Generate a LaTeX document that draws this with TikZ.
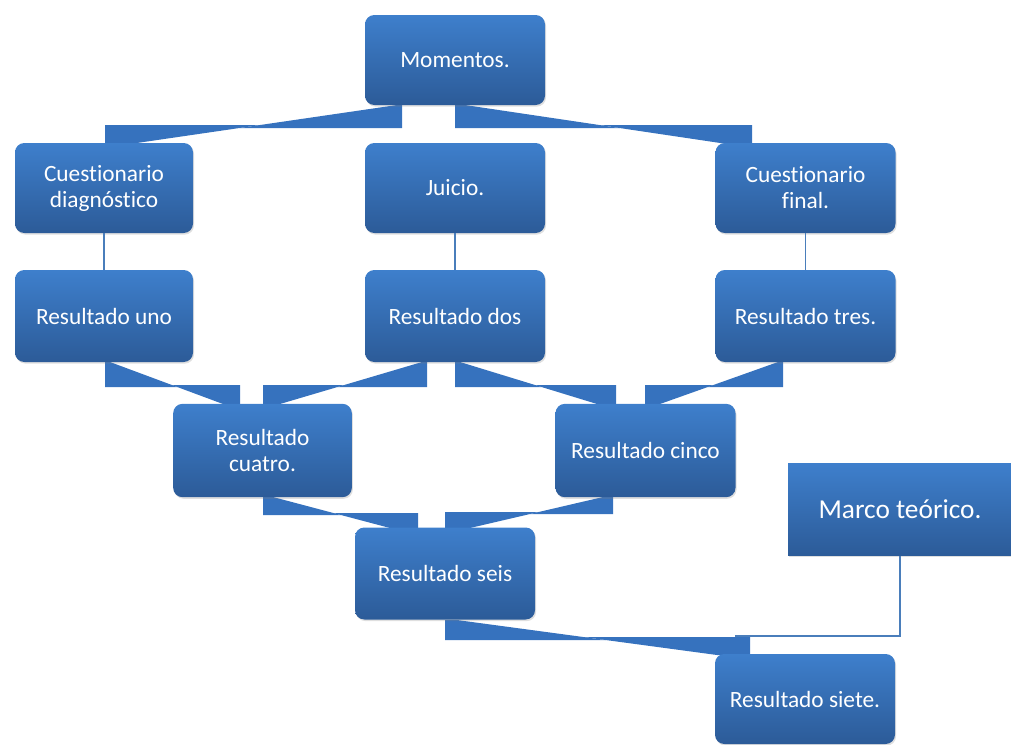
\documentclass[tikz,border=0pt]{standalone}
\usepackage{fontspec}
\setmainfont{Carlito}[Ligatures=NoCommon]
\usetikzlibrary{shadows}
\definecolor{boxtop}{HTML}{3E7FCC}
\definecolor{boxbot}{HTML}{2C5B98}
\definecolor{ribc}{HTML}{3672BE}
\definecolor{linec}{HTML}{4A7EBB}
\tikzset{
  box/.style={rectangle, rounded corners=7pt, top color=boxtop, bottom color=boxbot,
    draw=none, text=white, align=center, inner sep=0pt,
    minimum width=135pt, minimum height=67.5pt,
    font=\fontsize{17.5}{19.5}\selectfont,
    drop shadow={opacity=0.25, shadow xshift=0.8pt, shadow yshift=-1.2pt}},
  thinline/.style={draw=linec, line width=1.3pt},
  ribbonfill/.style={fill=ribc}
}
% #1 xp, #2 yp, #3 y1, #4 xd1, #5 xd2, #6 y2, #7 yc, #8 xc
\newcommand\myribbon[8]{%
  \pgfmathsetmacro\xa{#4+(#3-#2)/(#7-#2)*(#5-#4)}%
  \pgfmathsetmacro\xb{#4+(#6-#2)/(#7-#2)*(#5-#4)}%
  \fill[ribbonfill] (#4,#2) -- (#1,#2) -- (#1,#3) -- (\xa,#3) -- cycle;
  \fill[ribbonfill] (#8,#6) -- (\xb,#6) -- (#5,#7) -- (#8,#7) -- cycle;
}
\begin{document}
\begin{tikzpicture}[x=0.75pt,y=-0.75pt]
\useasboundingbox (0,0) rectangle (1011,744);
% ribbons
\myribbon{402}{105}{128}{397}{130}{125}{144}{105}
\myribbon{455}{105}{128}{465}{727}{125}{144}{752}
\myribbon{105}{362}{387}{110}{223}{385}{404}{240}
\myribbon{427}{362}{387}{422}{280}{385}{404}{263}
\myribbon{455}{362}{387}{460}{597}{385}{404}{616}
\myribbon{783}{362}{387}{778}{660}{385}{404}{645}
\myribbon{263}{497}{515}{273}{390}{513}{528}{418}
\myribbon{613}{497}{514}{603}{470}{512}{528}{445}
\myribbon{445}{620}{640}{457}{717}{637}{655}{750}
% boxes
\node[box] (mom) at (455,60) {Momentos.};
\node[box, minimum width=133.5pt] (cd) at (104,188) {Cuestionario\\diagnóstico};
\node[box] (jui) at (455,188) {Juicio.};
\node[box] (cf) at (805.5,188) {Cuestionario\\final.};
\node[box, minimum width=133.5pt, minimum height=69pt] (r1) at (104,316) {Resultado uno};
\node[box, minimum height=69pt] (r2) at (455,316) {Resultado dos};
\node[box, minimum height=69pt] (r3) at (805.5,316) {Resultado tres.};
\node[box, minimum width=134pt, minimum height=70pt] (r4) at (262.5,450.5) {Resultado\\cuatro.};
\node[box, minimum height=70pt] (r5) at (645.5,450.5) {Resultado cinco};
\node[box, minimum height=69pt] (r6) at (445,573.5) {Resultado seis};
\node[box, minimum height=67.5pt] (r7) at (805,699) {Resultado siete.};
\node[box, rounded corners=0pt, minimum width=168pt, minimum height=69pt,
      font=\fontsize{20.5}{24}\selectfont] (mt) at (900,509.5) {Marco teórico.};
% thin connectors
\coordinate (mk) at (735,636);
\draw[thinline] (cd.south) -- (r1.north);
\draw[thinline] (jui.south) -- (r2.north);
\draw[thinline] (cf.south) -- (r3.north);
\draw[thinline] (mt.south) |- (mk);
\end{tikzpicture}
\end{document}
